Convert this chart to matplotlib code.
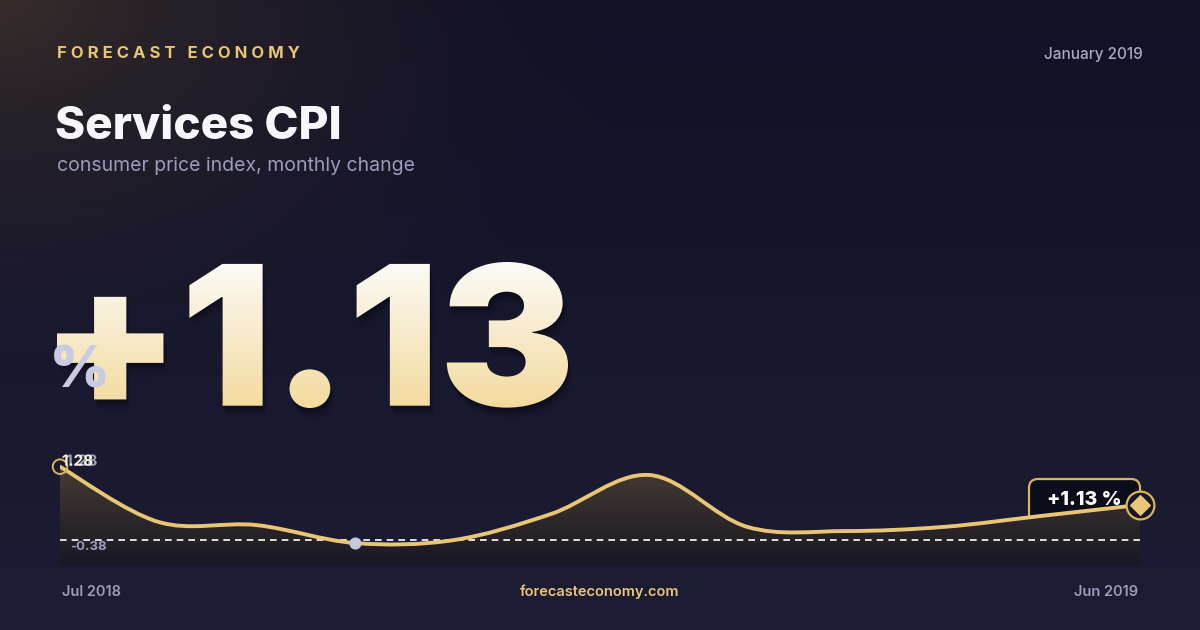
import numpy as np
import matplotlib.pyplot as plt
import matplotlib.patheffects as pe
from matplotlib.path import Path
from matplotlib.patches import PathPatch, FancyBboxPatch
from matplotlib.textpath import TextPath
from matplotlib.font_manager import FontProperties
from matplotlib.transforms import Affine2D

months = ["Jul 2018", "Aug 2018", "Sep 2018", "Oct 2018", "Nov 2018", "Dec 2018",
          "Jan 2019", "Feb 2019", "Mar 2019", "Apr 2019", "May 2019", "Jun 2019"]
values = [1.28, 0.08, 0.01, -0.38, -0.32, 0.25, 1.10, -0.03, -0.12, -0.03, 0.21, 0.45]
headline = "+1.13"
first_label = "1.28"
min_label = "-0.38"
end_label = "+1.13 %"
ref_level = -0.32

W, H = 1200, 630
GOLD = "#e9c676"
LAV = "#9c9cba"

fig = plt.figure(figsize=(12, 6.3), dpi=100)

# background: navy with warm glow in top-left corner
bg = fig.add_axes([0, 0, 1, 1])
bg.set_xlim(0, W)
bg.set_ylim(H, 0)
bg.axis("off")
yy, xx = np.mgrid[0:H, 0:W]
t = yy / H
base = np.stack([18 + 10 * t, 18 + 10 * t, 37 + 15 * t], axis=-1)
glow = np.clip(1 - np.hypot(xx / 650, yy / 430), 0, 1) ** 1.8
warm = np.array([54, 44, 42])
img = base * (1 - glow[..., None]) + warm * glow[..., None]
bg.imshow(img.astype(np.uint8), extent=[0, W, H, 0], aspect="auto", zorder=0)

# header text
brand = "   ".join(" ".join(w) for w in "FORECAST ECONOMY".split())
bg.text(57, 53, brand, color=GOLD, fontsize=12, fontweight="bold",
        family="Inter", va="center", ha="left")
bg.text(1143, 54, "January 2019", color="#a9a9c4", fontsize=11, fontweight="medium",
        family="Inter", va="center", ha="right")
bg.text(55, 127, "Services CPI", color="#f7f7fb", fontsize=33, fontweight="heavy",
        family="Inter", va="center", ha="left")
bg.text(57, 166, "consumer price index, monthly change", color=LAV, fontsize=14,
        family="Inter", va="center", ha="left")

# big headline number with vertical gradient
fp = FontProperties(family="Inter", weight="black")
tp = TextPath((0, 0), headline, size=100, prop=fp)
ext = tp.get_extents()
x0, x1, y0, y1 = 57, 568, 262, 408
sx = (x1 - x0) / ext.width
sy = (y1 - y0) / ext.height
tr = Affine2D().translate(-ext.x0, -ext.y0).scale(sx, -sy).translate(x0, y1)
big_path = tr.transform_path(tp)
for dx, dy, a in [(1, 3, 0.25), (2, 6, 0.18), (4, 10, 0.10)]:
    bg.add_patch(PathPatch(Affine2D().translate(dx, dy).transform_path(big_path),
                           facecolor="#05050c", edgecolor="none", alpha=a, zorder=2))
grad = np.linspace(0, 1, 256)[:, None]
top_c = np.array([252, 251, 248]) / 255
bot_c = np.array([243, 219, 158]) / 255
gimg = top_c * (1 - grad[..., None]) + bot_c * grad[..., None]
gimg = np.repeat(gimg, 2, axis=1)
clip = PathPatch(big_path, facecolor="none", edgecolor="none", transform=bg.transData)
bg.add_patch(clip)
im = bg.imshow(gimg, extent=[x0, x1, y1, y0], aspect="auto", zorder=3)
im.set_clip_path(clip)
bg.text(50, 372, "%", color="#c9cbe2", fontsize=41, fontweight="black",
        family="Inter", va="center", ha="left", zorder=4)

# sparkline
top_v, bot_v = 1.28 + 11.7 / 45.96, 1.28 - 98.3 / 45.96
ax = fig.add_axes([60 / W, (H - 565) / H, 1080 / W, 110 / H])
ax.set_xlim(0, len(values) - 1)
ax.set_ylim(bot_v, top_v)
ax.axis("off")

xs = np.arange(len(values), dtype=float)
ys = np.array(values)
pts = np.column_stack([xs, ys])
ext_pts = np.vstack([pts[0], pts, pts[-1]])
verts = [tuple(pts[0])]
codes = [Path.MOVETO]
for i in range(len(pts) - 1):
    p0, p1, p2, p3 = ext_pts[i], ext_pts[i + 1], ext_pts[i + 2], ext_pts[i + 3]
    c1 = p1 + (p2 - p0) / 6
    c2 = p2 - (p3 - p1) / 6
    verts += [tuple(c1), tuple(c2), tuple(p2)]
    codes += [Path.CURVE4] * 3
line_path = Path(verts, codes)
area_path = Path(verts + [(xs[-1], bot_v), (xs[0], bot_v), verts[0]],
                 codes + [Path.LINETO, Path.LINETO, Path.CLOSEPOLY])

area_clip = PathPatch(area_path, facecolor="none", edgecolor="none")
ax.add_patch(area_clip)
g = np.linspace(0, 1, 256)[:, None]
c_top = np.array([72, 61, 52]) / 255
c_bot = np.array([24, 23, 35]) / 255
aimg = c_top * (1 - g[..., None]) + c_bot * g[..., None]
aimg = np.repeat(aimg, 2, axis=1)
aim = ax.imshow(aimg, extent=[0, xs[-1], bot_v, max(values) + 0.1], aspect="auto",
                zorder=1)
aim.set_clip_path(area_clip)

ax.axhline(ref_level, color="white", lw=1.2, ls=(0, (4, 3)), zorder=2,
           xmax=1.004, clip_on=False)
ax.add_patch(PathPatch(line_path, facecolor="none", edgecolor=GOLD, lw=2.8,
                       zorder=3, capstyle="round", joinstyle="round"))

imin = int(np.argmin(values))
ax.scatter([xs[imin]], [values[imin]], s=60, color="#c3c6dd", zorder=5)
ax.scatter([xs[0]], [values[0]], s=110, facecolor="none", edgecolor="#d9b35e",
           lw=1.4, zorder=5, clip_on=False)
ax.text(xs[0] + 0.02, values[0] + 0.12, first_label, color="#f4f0e4", fontsize=11,
        fontweight="bold", family="Inter", va="center", ha="left", zorder=6,
        path_effects=[pe.SimplePatchShadow(offset=(3, 0), shadow_rgbFace="#b0b0c8",
                                           alpha=0.9), pe.Normal()])
ax.text(xs[0] + 0.1, ref_level - 0.15, min_label, color=LAV, fontsize=9.5,
        fontweight="bold", family="Inter", va="center", ha="left", zorder=6)

# end marker and value box
bg.add_patch(FancyBboxPatch((1029, 479), 111, 44, boxstyle="round,pad=0,rounding_size=9",
                            facecolor="#0c0d1b", edgecolor="#d9b35e", lw=1.6, zorder=6))
bg.text(1084, 500, end_label, color="white", fontsize=14, fontweight="heavy",
        family="Inter", va="center", ha="center", zorder=7)
ax.scatter([xs[-1]], [values[-1]], s=400, facecolor="#14142a", edgecolor="#d9b35e",
           lw=1.6, zorder=7, clip_on=False)
ax.scatter([xs[-1]], [values[-1]], s=100, marker="D", color=GOLD, zorder=8,
           clip_on=False)

# footer
bg.text(62, 592, months[0], color=LAV, fontsize=10.5, fontweight="semibold",
        family="Inter", va="center", ha="left")
bg.text(1138, 592, months[-1], color=LAV, fontsize=10.5, fontweight="semibold",
        family="Inter", va="center", ha="right")
bg.text(600, 592, "forecasteconomy.com", color=GOLD, fontsize=10.5, fontweight="semibold",
        family="Inter", va="center", ha="center")

fig.savefig("out.png", dpi=100)
